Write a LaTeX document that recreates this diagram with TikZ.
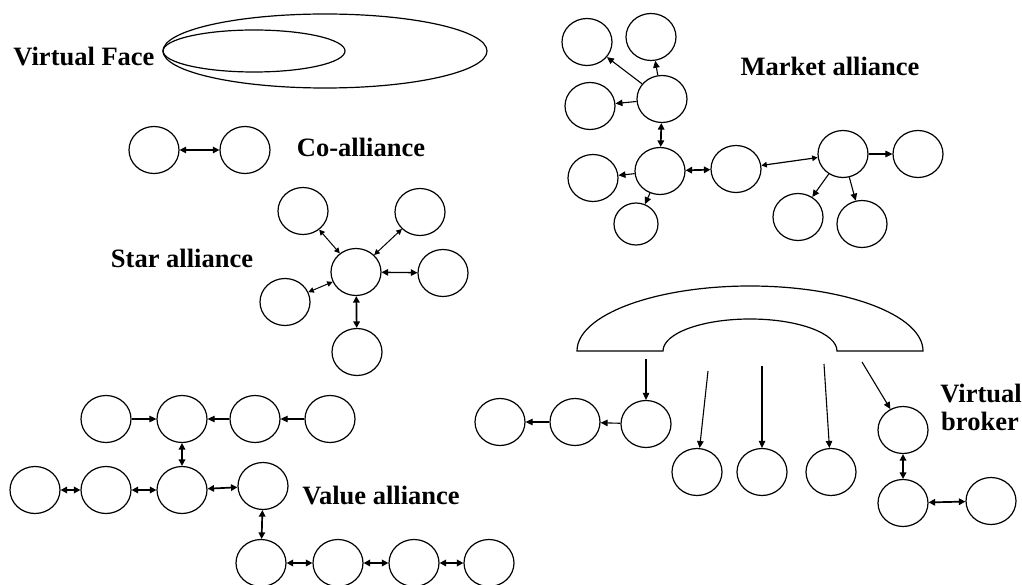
\documentclass[tikz,border=0pt]{standalone}
\usepackage{fontspec}
\setmainfont{Liberation Serif}
\usetikzlibrary{arrows.meta,shapes.geometric}
\newcommand{\lblfont}{\fontsize{26.5}{30}\selectfont\bfseries}
\begin{document}
\begin{tikzpicture}[x=1pt,y=-1pt,
  firm/.style={ellipse, draw, line width=1.2pt, minimum width=50pt, minimum height=47pt, inner sep=0pt},
  small/.style={firm, minimum width=44pt, minimum height=42pt},
  lbl/.style={font=\lblfont, inner sep=0pt, anchor=base},
  one/.style={-{Triangle[length=7pt,width=6.5pt]}, line width=1.1pt},
  two/.style={{Triangle[length=6.5pt,width=6.5pt]}-{Triangle[length=6.5pt,width=6.5pt]}, line width=1.7pt},
  twothin/.style={{Triangle[length=5.5pt,width=5.5pt]}-{Triangle[length=5.5pt,width=5.5pt]}, line width=1pt},
  outline/.style={draw, line width=1.2pt}]
\useasboundingbox[fill=white] (0,0) rectangle (1022,585);

% Virtual Face
\node[lbl] (tvf) at (84,66) {Virtual Face};
\draw[outline] (325,51) ellipse [x radius=162, y radius=37];
\draw[outline] (254,51) ellipse [x radius=91, y radius=21];

% Co-alliance
\node[firm] (c1) at (154,150) {};
\node[firm] (c2) at (245,150) {};
\draw[two, line width=1.3pt] (c1) -- (c2);
\node[lbl] (tco) at (361,157) {Co-alliance};

% Star alliance
\node[lbl] (tst) at (182,268) {Star alliance};
\node[firm] (s0) at (356,272) {};
\node[firm] (s1) at (303,211) {};
\node[firm] (s2) at (420,212) {};
\node[firm] (s3) at (443,273) {};
\node[firm] (s4) at (285,302) {};
\node[firm] (s5) at (357,352) {};
\draw[twothin] (s0) -- (s1);
\draw[twothin] (s0) -- (s2);
\draw[two, line width=1.3pt] (s0) -- (s3);
\draw[twothin] (s0) -- (s4);
\draw[two] (s0) -- (s5);

% Market alliance
\node[lbl] (tma) at (830,76) {Market alliance};
\node[firm] (mA) at (587,42) {};
\node[firm] (mB) at (651,37) {};
\node[firm] (mC) at (662,99) {};
\node[firm] (mD) at (590,106) {};
\node[firm] (mE) at (660,171) {};
\node[firm] (mF) at (593,178) {};
\node[small] (mG) at (636,224) {};
\node[firm] (mH) at (736,169) {};
\node[firm] (mI) at (843,154) {};
\node[firm] (mJ) at (918,154) {};
\node[firm] (mK) at (798,217) {};
\node[firm] (mL) at (862,224) {};
\draw[one] (mC) -- (mA);
\draw[one] (mC) -- (mB);
\draw[one] (mC) -- (mD);
\draw[two] (mC) -- (mE);
\draw[one] (mE) -- (mF);
\draw[one] (mE) -- (mG);
\draw[two] (mE) -- (mH);
\draw[twothin, line width=1.2pt] (mH) -- (mI);
\draw[one] (mI) -- (mJ);
\draw[one] (mI) -- (mK);
\draw[one] (mI) -- (mL);

% Virtual broker
\draw[outline] (577,351) arc[start angle=180, end angle=360, x radius=173, y radius=65]
  -- (837,351) arc[start angle=360, end angle=180, x radius=87, y radius=32] -- cycle;
\node[lbl] (tvb1) at (981,402) {Virtual};
\node[lbl] (tvb2) at (980,430) {broker};
\node[firm] (b1) at (500,422) {};
\node[firm] (b2) at (575,422) {};
\node[firm] (b3) at (646,424) {};
\node[firm] (q1) at (697,472) {};
\node[firm] (q2) at (762,472) {};
\node[firm] (q3) at (831,472) {};
\node[firm] (r1) at (903,430) {};
\node[firm] (r2) at (903,503) {};
\node[firm] (r3) at (991,501) {};
\coordinate (p1) at (646,359);
\coordinate (p2) at (708,371);
\coordinate (p3) at (762,366);
\coordinate (p4) at (824,364);
\coordinate (p5) at (862,362);
\draw[one] (p1) -- (b3);
\draw[one] (p2) -- (q1);
\draw[one] (p3) -- (q2);
\draw[one] (p4) -- (q3);
\draw[one] (p5) -- (r1);
\draw[one] (b3) -- (b2);
\draw[one] (b2) -- (b1);
\draw[two] (r1) -- (r2);
\draw[two] (r2) -- (r3);

% Value alliance
\node[lbl] (tva) at (381,504) {Value alliance};
\node[firm] (v1) at (106,419) {};
\node[firm] (v2) at (182,419) {};
\node[firm] (v3) at (255,419) {};
\node[firm] (v4) at (330,419) {};
\node[firm] (w1) at (35,490) {};
\node[firm] (w2) at (106,490) {};
\node[firm] (w3) at (182,490) {};
\node[firm] (w4) at (263,486) {};
\node[firm] (x1) at (261,563) {};
\node[firm] (x2) at (338,563) {};
\node[firm] (x3) at (414,563) {};
\node[firm] (x4) at (489,563) {};
\draw[one] (v1) -- (v2);
\draw[one] (v3) -- (v2);
\draw[one] (v4) -- (v3);
\draw[two] (v2) -- (w3);
\draw[two] (w1) -- (w2);
\draw[two] (w2) -- (w3);
\draw[two] (w3) -- (w4);
\draw[two] (w4) -- (x1);
\draw[two] (x1) -- (x2);
\draw[two] (x2) -- (x3);
\draw[two] (x3) -- (x4);
\end{tikzpicture}
\end{document}
